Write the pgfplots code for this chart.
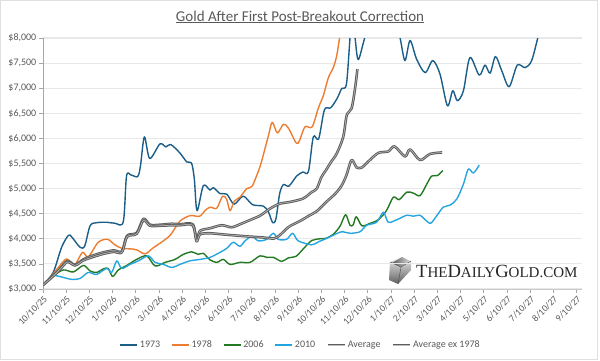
\documentclass[border=0pt]{standalone}
\usepackage{fontspec}
\setmainfont{Carlito}
\newfontfamily\logofont{Liberation Serif}
\usepackage{pgfplots}
\pgfplotsset{compat=1.18}
\definecolor{cA}{HTML}{1B5E87}
\definecolor{cB}{HTML}{ED7D31}
\definecolor{cC}{HTML}{237A23}
\definecolor{cD}{HTML}{25A5E0}
\definecolor{cAvg}{HTML}{5E5E5E}
\definecolor{cAvgIn}{HTML}{BEBEBE}
\definecolor{txtgray}{HTML}{595959}
\definecolor{axgray}{HTML}{A6A6A6}
\definecolor{gridgray}{HTML}{E8E8E8}
\begin{document}
\begin{tikzpicture}[x=1pt,y=1pt]
\useasboundingbox (0,0) rectangle (600,360);
\draw[gray!25, line width=0.8pt] (0.5,0.5) rectangle (597,359.5);
\node[font=\fontsize{15}{18}\selectfont, text=txtgray] at (300,343) {\underline{Gold After First Post-Breakout Correction}};
% logo
\shade[top color=gray!15, bottom color=gray!75!black] (389,80) -- (398,76) -- (411,90) -- (411,99) -- (402,103) -- (390,98) -- cycle;
\shade[left color=gray!70!black, right color=gray!30] (392,97) -- (401,93) -- (410,99) -- (402,103) -- cycle;
\draw[gray!60!black, line width=0.4pt] (398,76) -- (401,93) (390,98) -- (401,93) -- (411,99);
\node[anchor=base west, inner sep=0pt, text=black!85, font=\logofont] at (416,82.7) {\fontsize{18.6}{20}\selectfont T\fontsize{15}{16}\selectfont HE\fontsize{18.6}{20}\selectfont D\fontsize{15}{16}\selectfont AILY\fontsize{18.6}{20}\selectfont G\fontsize{15}{16}\selectfont OLD.COM};
\begin{axis}[
  at={(43pt,71pt)}, anchor=south west,
  scale only axis, width=539pt, height=251pt,
  xmin=0, xmax=23.23, ymin=3000, ymax=8000,
  axis x line*=bottom, axis y line*=left,
  axis line style={-, draw=axgray, line width=0.8pt},
  x axis line style={draw=gridgray!70!gray, line width=1pt},
  xtick={0,...,23},
  xticklabels={10/10/25,11/10/25,12/10/25,1/10/26,2/10/26,3/10/26,4/10/26,5/10/26,6/10/26,7/10/26,8/10/26,9/10/26,10/10/26,11/10/26,12/10/26,1/10/27,2/10/27,3/10/27,4/10/27,5/10/27,6/10/27,7/10/27,8/10/27,9/10/27},
  ytick={3000,3500,4000,4500,5000,5500,6000,6500,7000,7500,8000},
  yticklabels={{\$3,000},{\$3,500},{\$4,000},{\$4,500},{\$5,000},{\$5,500},{\$6,000},{\$6,500},{\$7,000},{\$7,500},{\$8,000}},
  tick align=outside, major tick length=4pt,
  every tick/.style={draw=axgray, line width=0.8pt},
  ymajorgrids, grid style={draw=gridgray, line width=1.1pt},
  xticklabel style={rotate=45, anchor=north east, font=\fontsize{9.5}{11}\selectfont, text=txtgray, inner sep=1.5pt},
  yticklabel style={font=\fontsize{10}{12}\selectfont, text=txtgray, inner sep=2.5pt},
  legend columns=6,
  legend style={at={(0.478,-0.223)}, anchor=center, draw=none, fill=none,
    font=\fontsize{10}{12}\selectfont, text=txtgray,
    /tikz/every even column/.append style={column sep=9pt}},
  legend image code/.code={\draw[#1] (0pt,0pt) -- (17pt,0pt);},
  every axis plot/.append style={smooth, tension=0.5, line join=round},
]
% 1973
\addplot[cA, line width=1.4pt] coordinates {
(0,3080)(0.44,3330)(0.8,3830)(1.1,4070)(1.25,4030)(1.6,3830)(1.8,3860)(2.03,4260)(2.31,4320)(2.74,4330)(3.1,4310)(3.46,4340)(3.6,5250)(3.8,5270)(4.08,5240)(4.2,5450)(4.37,6030)(4.6,5600)(5.04,5890)(5.3,5830)(5.5,5880)(5.9,5710)(6.2,5530)(6.4,5510)(6.52,5200)(6.64,4560)(6.91,5060)(7.2,4970)(7.34,5020)(7.63,4900)(7.92,4890)(8.24,4690)(8.63,4850)(9.03,4680)(9.5,4650)(9.72,4530)(9.9,4320)(10.04,4400)(10.2,4900)(10.36,5080)(10.6,5050)(10.93,5250)(11.2,5330)(11.44,5340)(11.65,6030)(11.88,5990)(12.13,6570)(12.4,6610)(12.68,6800)(12.87,6990)(13.08,7090)(13.25,8100)(13.36,8300)(13.45,8000)(13.59,7570)(13.9,8050)(14.3,8400)(14.8,8500)(15.2,8300)(15.39,8000)(15.6,7550)(15.82,7950)(16.1,7580)(16.47,7310)(16.8,7550)(17.11,7280)(17.43,6650)(17.66,6950)(17.86,6750)(18.12,6950)(18.4,7610)(18.8,7260)(19.05,7460)(19.27,7300)(19.5,7630)(19.77,7350)(20.09,7030)(20.44,7460)(20.78,7410)(21.06,7550)(21.35,8050)(21.5,8300)
};
\addlegendentry{1973}
% 1978
\addplot[cB, line width=1.4pt] coordinates {
(0,3080)(0.35,3250)(0.66,3430)(1.02,3600)(1.35,3470)(1.7,3730)(1.95,3640)(2.38,3930)(2.78,3990)(3.1,3880)(3.4,3810)(3.75,3800)(4.04,3780)(4.4,3700)(4.75,3820)(5.19,3960)(5.5,4080)(5.9,4350)(6.33,4460)(6.75,4450)(6.98,4560)(7.2,4630)(7.49,4610)(7.74,4850)(7.92,4780)(8.06,4560)(8.25,4750)(8.49,4830)(8.78,5000)(9.0,5040)(9.21,5260)(9.4,5510)(9.71,6046)(9.88,6320)(10.1,6110)(10.36,6280)(10.57,6210)(10.91,5910)(11.05,5950)(11.29,6230)(11.6,6230)(11.87,6610)(12.08,6850)(12.3,7210)(12.51,7410)(12.66,7650)(12.8,8050)(13.0,8500)
};
\addlegendentry{1978}
% 2006
\addplot[cC, line width=1.4pt] coordinates {
(0,3080)(0.44,3260)(0.88,3380)(1.31,3340)(1.74,3470)(2.03,3360)(2.31,3330)(2.6,3400)(2.81,3410)(3.0,3250)(3.25,3380)(3.61,3470)(4.04,3590)(4.47,3660)(4.83,3460)(5.26,3530)(5.69,3590)(6.05,3690)(6.41,3740)(6.69,3690)(6.91,3710)(7.2,3580)(7.49,3530)(7.77,3590)(8.06,3490)(8.49,3530)(8.92,3530)(9.35,3660)(9.64,3630)(9.93,3630)(10.29,3550)(10.57,3620)(10.9,3650)(11.22,3800)(11.58,3966)(11.94,4000)(12.2,4010)(12.51,4090)(12.8,4250)(13.04,4480)(13.23,4270)(13.37,4280)(13.5,4440)(13.74,4260)(14.05,4300)(14.45,4380)(14.8,4560)(15.1,4830)(15.35,4780)(15.68,4930)(15.96,4910)(16.25,4860)(16.54,5090)(16.75,5250)(17.0,5260)(17.23,5360)
};
\addlegendentry{2006}
% 2010
\addplot[cD, line width=1.4pt] coordinates {
(0,3080)(0.44,3260)(0.88,3230)(1.24,3190)(1.6,3210)(1.95,3330)(2.31,3290)(2.74,3410)(2.96,3330)(3.18,3560)(3.39,3410)(3.75,3490)(4.11,3560)(4.54,3660)(4.83,3530)(5.19,3490)(5.55,3430)(5.9,3490)(6.33,3560)(6.77,3590)(7.2,3630)(7.63,3730)(7.92,3810)(8.2,3930)(8.49,3850)(8.71,3960)(9.0,4050)(9.28,3960)(9.64,3990)(9.93,4110)(10.14,3990)(10.5,3990)(10.76,4110)(11.0,3960)(11.58,3880)(11.87,3940)(12.23,4010)(12.51,4070)(12.87,4140)(13.23,4110)(13.66,4140)(13.95,4270)(14.38,4330)(14.67,4530)(14.88,4330)(15.25,4380)(15.68,4470)(15.96,4450)(16.25,4470)(16.47,4380)(16.71,4310)(16.97,4460)(17.25,4630)(17.54,4670)(17.83,4790)(18.12,5090)(18.33,5390)(18.55,5310)(18.8,5470)
};
\addlegendentry{2010}
% Average
\addplot[draw=cAvg, double=cAvgIn, double distance=0.6pt, line width=1.0pt] coordinates {
(0,3080)(0.4,3250)(0.73,3400)(1.05,3560)(1.38,3480)(1.74,3590)(2.17,3670)(2.6,3730)(3.05,3770)(3.4,3750)(3.62,4060)(4.04,4120)(4.33,4400)(4.61,4280)(5.04,4280)(5.55,4300)(5.9,4290)(6.45,4290)(6.62,3990)(6.77,4160)(7.2,4210)(7.7,4270)(8.13,4230)(8.49,4290)(8.85,4360)(9.35,4460)(9.78,4600)(10.2,4700)(10.6,4730)(11.2,4800)(11.58,4930)(11.8,5000)(12.0,5230)(12.2,5370)(12.4,5520)(12.66,5700)(12.94,6030)(13.09,6460)(13.3,6600)(13.45,7000)(13.55,7380)
};
\addlegendentry{Average}
% Average ex 1978
\addplot[draw=cAvg, double=cAvgIn, double distance=0.6pt, line width=1.0pt] coordinates {
(0,3080)(0.4,3240)(0.73,3390)(1.05,3540)(1.38,3470)(1.74,3570)(2.17,3640)(2.6,3700)(3.05,3740)(3.4,3730)(3.62,4040)(4.04,4100)(4.33,4370)(4.61,4260)(5.04,4260)(5.55,4270)(5.9,4270)(6.45,4270)(6.62,3950)(6.77,4090)(7.2,4110)(7.7,4090)(8.2,4070)(8.85,4046)(9.5,4026)(9.95,4006)(10.2,4070)(10.6,4240)(11.1,4360)(11.5,4470)(11.8,4550)(12.2,4730)(12.6,4900)(12.87,5060)(13.08,5270)(13.3,5570)(13.52,5420)(13.74,5420)(14.02,5540)(14.45,5710)(14.88,5740)(15.15,5840)(15.6,5640)(15.82,5780)(16.25,5570)(16.68,5690)(17.2,5720)
};
\addlegendentry{Average ex 1978}
\end{axis}
\end{tikzpicture}
\end{document}
